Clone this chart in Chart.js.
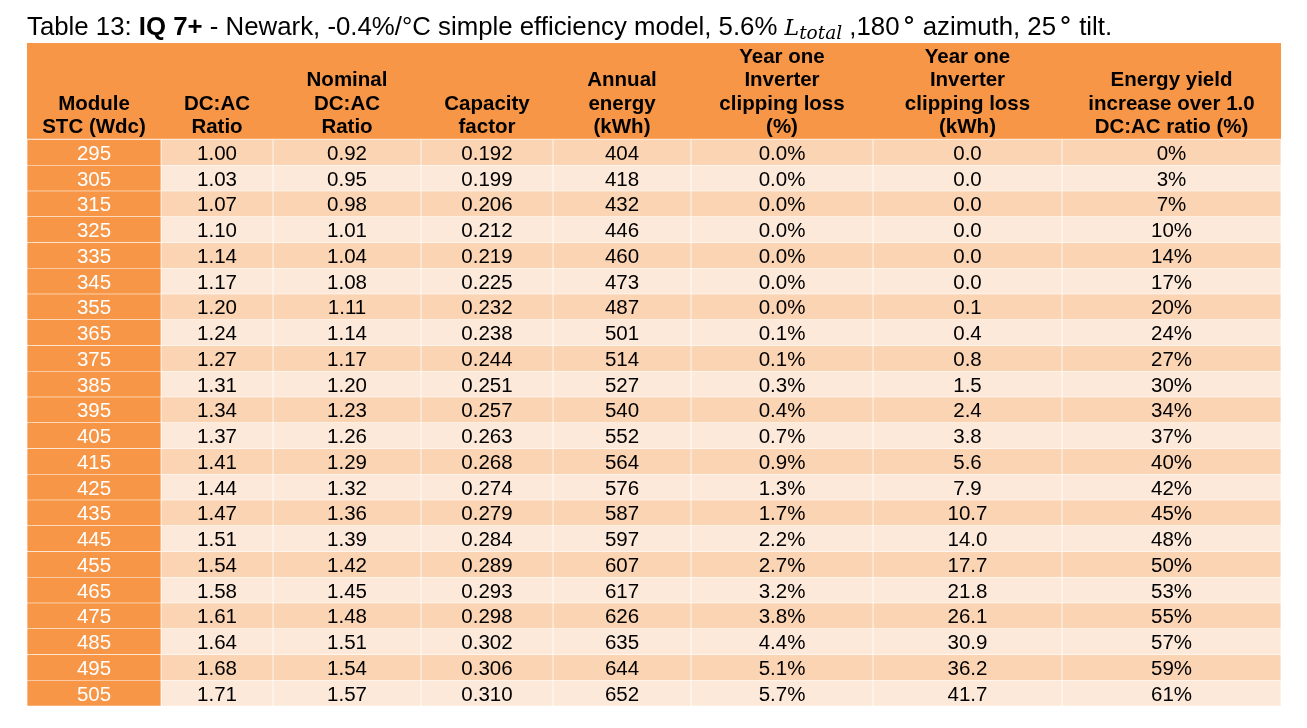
<!DOCTYPE html>
<html>
<head>
<meta charset="utf-8">
<script src="https://cdn.jsdelivr.net/npm/chart.js@4.4.1/dist/chart.umd.min.js"></script>
<style>
  html, body { margin: 0; padding: 0; background: #fff; }
  canvas { display: block; }
</style>
</head>
<body>
<canvas id="table13" width="1307" height="728" style="width:1307px;height:728px"></canvas>
<script>
const moduleStc = [295, 305, 315, 325, 335, 345, 355, 365, 375, 385, 395, 405, 415, 425, 435, 445, 455, 465, 475, 485, 495, 505];
const dcAcRatio = [1.00, 1.03, 1.07, 1.10, 1.14, 1.17, 1.20, 1.24, 1.27, 1.31, 1.34, 1.37, 1.41, 1.44, 1.47, 1.51, 1.54, 1.58, 1.61, 1.64, 1.68, 1.71];
const nominalRatio = [0.92, 0.95, 0.98, 1.01, 1.04, 1.08, 1.11, 1.14, 1.17, 1.20, 1.23, 1.26, 1.29, 1.32, 1.36, 1.39, 1.42, 1.45, 1.48, 1.51, 1.54, 1.57];
const capacityFactor = [0.192, 0.199, 0.206, 0.212, 0.219, 0.225, 0.232, 0.238, 0.244, 0.251, 0.257, 0.263, 0.268, 0.274, 0.279, 0.284, 0.289, 0.293, 0.298, 0.302, 0.306, 0.310];
const annualEnergy = [404, 418, 432, 446, 460, 473, 487, 501, 514, 527, 540, 552, 564, 576, 587, 597, 607, 617, 626, 635, 644, 652];
const clippingPct = [0.0, 0.0, 0.0, 0.0, 0.0, 0.0, 0.0, 0.1, 0.1, 0.3, 0.4, 0.7, 0.9, 1.3, 1.7, 2.2, 2.7, 3.2, 3.8, 4.4, 5.1, 5.7];
const clippingKwh = [0.0, 0.0, 0.0, 0.0, 0.0, 0.0, 0.1, 0.4, 0.8, 1.5, 2.4, 3.8, 5.6, 7.9, 10.7, 14.0, 17.7, 21.8, 26.1, 30.9, 36.2, 41.7];
const yieldIncrease = [0, 3, 7, 10, 14, 17, 20, 24, 27, 30, 34, 37, 40, 42, 45, 48, 50, 53, 55, 57, 59, 61];

const headers = [
    ['Module', 'STC (Wdc)'],
    ['DC:AC', 'Ratio'],
    ['Nominal', 'DC:AC', 'Ratio'],
    ['Capacity', 'factor'],
    ['Annual', 'energy', '(kWh)'],
    ['Year one', 'Inverter', 'clipping loss', '(%)'],
    ['Year one', 'Inverter', 'clipping loss', '(kWh)'],
    ['Energy yield', 'increase over 1.0', 'DC:AC ratio (%)']
];

// formatted cell text, one list per column
const columns = [
    moduleStc.map(v => String(v)),
    dcAcRatio.map(v => v.toFixed(2)),
    nominalRatio.map(v => v.toFixed(2)),
    capacityFactor.map(v => v.toFixed(3)),
    annualEnergy.map(v => String(v)),
    clippingPct.map(v => v.toFixed(1) + '%'),
    clippingKwh.map(v => v.toFixed(1)),
    yieldIncrease.map(v => v + '%')
];

// layout
const colWidths = [134, 112, 148, 132, 138, 182, 189, 219];
const FONT = '"Liberation Sans", Arial, Helvetica, sans-serif';
const MATH = '"DejaVu Serif", "Liberation Serif", serif';
const ORANGE = '#F79646';
const ROW_DARK = '#FBD4B4';
const ROW_LIGHT = '#FDE9D9';
const HEADER_TOP = 43;

const datasets = colWidths.map((w, c) => ({
    label: headers[c].join(' '),
    data: moduleStc.map(() => w),
    backgroundColor: (ctx) => c === 0 ? ORANGE : (ctx.dataIndex % 2 === 0 ? ROW_DARK : ROW_LIGHT),
    borderColor: '#ffffff',
    borderWidth: { top: 0.7, bottom: 0.7, left: 0.7, right: 0.7 },
    borderSkipped: false,
    categoryPercentage: 1,
    barPercentage: 1
}));

const tablePlugin = {
    id: 'tablePlugin',
    beforeDatasetsDraw(chart) {
        const { ctx, chartArea, scales } = chart;
        const x = scales.x;
        // header band
        ctx.save();
        ctx.fillStyle = ORANGE;
        ctx.fillRect(chartArea.left, HEADER_TOP, chartArea.right - chartArea.left, chartArea.top - HEADER_TOP);
        ctx.fillStyle = '#ffffff';
        ctx.fillRect(chartArea.left, chartArea.top - 0.7, chartArea.right - chartArea.left, 0.7);
        // header text, bottom aligned
        ctx.fillStyle = '#000000';
        ctx.font = 'bold 20.5px ' + FONT;
        ctx.textAlign = 'center';
        ctx.textBaseline = 'alphabetic';
        let acc = 0;
        headers.forEach((lines, c) => {
            const x0 = x.getPixelForValue(acc);
            acc += colWidths[c];
            const x1 = x.getPixelForValue(acc);
            const cx = (x0 + x1) / 2;
            const lastBase = chartArea.top - 6.5;
            lines.forEach((line, i) => {
                ctx.fillText(line, cx, lastBase - (lines.length - 1 - i) * 23.5);
            });
        });
        ctx.restore();
    },
    afterDatasetsDraw(chart) {
        const { ctx } = chart;
        ctx.save();
        ctx.font = '20.5px ' + FONT;
        ctx.textAlign = 'center';
        ctx.textBaseline = 'alphabetic';
        chart.data.datasets.forEach((ds, c) => {
            const meta = chart.getDatasetMeta(c);
            ctx.fillStyle = c === 0 ? '#ffffff' : '#000000';
            meta.data.forEach((bar, r) => {
                const cx = (bar.x + bar.base) / 2;
                ctx.fillText(columns[c][r], cx, bar.y + 7.4);
            });
        });
        ctx.restore();
    },
    afterDraw(chart) {
        // caption with mixed fonts
        const { ctx, chartArea } = chart;
        const size = 25.8;
        const parts = [
            { t: 'Table 13: ', f: size + 'px ' + FONT },
            { t: 'IQ 7+', f: 'bold ' + size + 'px ' + FONT },
            { t: ' - Newark, -0.4%/\u00B0C simple efficiency model, 5.6% ', f: size + 'px ' + FONT },
            { t: 'L', f: 'italic 22px ' + MATH },
            { t: 'total', f: 'italic 18.5px ' + MATH, dy: 4 },
            { t: ' ,180', f: size + 'px ' + FONT },
            { t: '\u00B0', f: '26px ' + MATH, pad: 3 },
            { t: ' azimuth, 25', f: size + 'px ' + FONT },
            { t: '\u00B0', f: '26px ' + MATH, pad: 3 },
            { t: ' tilt.', f: size + 'px ' + FONT }
        ];
        ctx.save();
        ctx.fillStyle = '#000000';
        ctx.textAlign = 'left';
        ctx.textBaseline = 'alphabetic';
        let px = chartArea.left;
        const base = 34.5;
        parts.forEach(p => {
            ctx.font = p.f;
            px += p.pad || 0;
            ctx.fillText(p.t, px, base + (p.dy || 0));
            px += ctx.measureText(p.t).width;
        });
        ctx.restore();
    }
};

new Chart(document.getElementById('table13'), {
    type: 'bar',
    data: { labels: moduleStc.map(String), datasets: datasets },
    options: {
        indexAxis: 'y',
        responsive: false,
        animation: false,
        layout: { padding: { left: 27, right: 26, top: 139.5, bottom: 22 } },
        scales: {
            x: { stacked: true, display: false, min: 0, max: colWidths.reduce((a, b) => a + b, 0) },
            y: { stacked: true, display: false }
        },
        plugins: {
            legend: { display: false },
            tooltip: { enabled: false }
        }
    },
    plugins: [tablePlugin]
});
</script>
</body>
</html>
